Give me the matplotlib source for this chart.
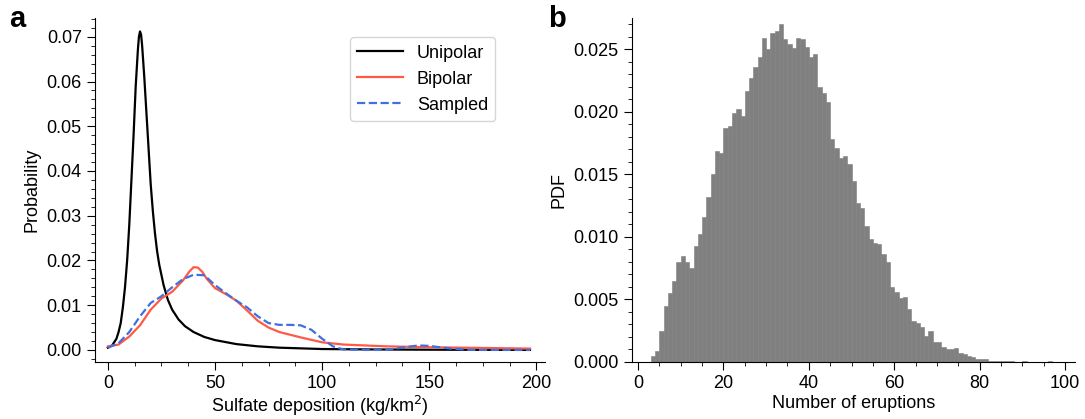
import numpy as np
import matplotlib.pyplot as plt
from matplotlib.ticker import AutoMinorLocator

# panel a curves
uni_x = [0, 2, 4, 5, 6, 7, 8, 9, 10, 11, 12, 13, 14, 14.5, 15, 15.5, 16, 17, 18, 19, 20, 21, 22, 23, 24, 26,
         28, 30, 33, 36, 40, 45, 50, 60, 70, 80, 100, 125, 150, 197]
uni_y = [0.0005, 0.001, 0.0025, 0.004, 0.006, 0.0095, 0.014, 0.020, 0.028, 0.038, 0.048, 0.059, 0.067, 0.0700,
         0.0712, 0.0705, 0.068, 0.061, 0.053, 0.045, 0.037, 0.031, 0.026, 0.022, 0.019, 0.0145, 0.0112, 0.009,
         0.0068, 0.0053, 0.0040, 0.0029, 0.0022, 0.0013, 0.0008, 0.0005, 0.0002, 0.0001, 0.00005, 0.0]
bip_x = [0, 5, 10, 15, 20, 25, 30, 35, 38, 40, 42, 44, 46, 50, 55, 60, 65, 70, 75, 80, 90, 100, 110, 130, 150, 197]
bip_y = [0.0008, 0.0012, 0.003, 0.0055, 0.009, 0.0115, 0.013, 0.0155, 0.0175, 0.0185, 0.0184, 0.0175, 0.016,
         0.0138, 0.0125, 0.011, 0.0088, 0.0065, 0.005, 0.004, 0.0028, 0.0017, 0.0012, 0.0008, 0.0006, 0.0003]
smp_x = [0, 5, 10, 15, 20, 25, 30, 35, 40, 45, 50, 55, 60, 65, 70, 75, 80, 85, 90, 95, 100, 105, 110, 120,
         130, 140, 145, 150, 160, 170, 197]
smp_y = [0.0005, 0.0015, 0.004, 0.0075, 0.0105, 0.012, 0.014, 0.0158, 0.0168, 0.0167, 0.0145, 0.0127, 0.011,
         0.0095, 0.0075, 0.006, 0.0056, 0.0056, 0.0055, 0.0045, 0.0025, 0.0008, 0.0001, 0.0, 0.0, 0.0007, 0.001,
         0.0009, 0.0003, 0.0, 0.0]

# panel b histogram, bins of width 1 starting at 3
bin_start = 3
pdf = [0.0005, 0.0009, 0.0025, 0.0045, 0.0055, 0.0065, 0.0080, 0.0085, 0.0080, 0.0075,
       0.0093, 0.0102, 0.0116, 0.0132, 0.0150, 0.0169, 0.0167, 0.0187, 0.0189, 0.0199,
       0.0202, 0.0197, 0.0217, 0.0227, 0.0236, 0.0244, 0.0259, 0.0250, 0.0263, 0.0265,
       0.0270, 0.0258, 0.0254, 0.0251, 0.0259, 0.0258, 0.0252, 0.0244, 0.0246, 0.0220,
       0.0215, 0.0208, 0.0178, 0.0171, 0.0163, 0.0165, 0.0158, 0.0145, 0.0127, 0.0123,
       0.0109, 0.0098, 0.0095, 0.0094, 0.0086, 0.0080, 0.0060, 0.0056, 0.0051, 0.0052,
       0.0042, 0.0033, 0.0031, 0.0028, 0.0021, 0.0025, 0.0016, 0.0016, 0.0012, 0.0010,
       0.0010, 0.0011, 0.0007, 0.0006, 0.0005, 0.0004, 0.0002, 0.0002, 0.0002, 0.0001,
       0.0001, 0.0001, 0.00005, 0.0001, 0.00005, 0.0, 0.0, 0.00005, 0.0, 0.0, 0.0, 0.0, 0.0, 0.00005]

plt.rcParams['font.family'] = ['Liberation Sans', 'DejaVu Sans']
plt.rcParams['font.size'] = 13

fig = plt.figure(figsize=(10.85, 4.19), dpi=100)
ax1 = fig.add_axes([95 / 1085, 1 - 362 / 419, 450 / 1085, 344 / 419])
ax2 = fig.add_axes([632 / 1085, 1 - 362 / 419, 443 / 1085, 344 / 419])

ax1.plot(uni_x, uni_y, color='black', lw=1.6, label='Unipolar')
ax1.plot(bip_x, bip_y, color='#ff5a45', lw=1.6, label='Bipolar')
ax1.plot(smp_x, smp_y, color='#3f6fe0', lw=1.6, ls='--', label='Sampled')
ax1.set_xlim(-6, 204)
ax1.set_ylim(-0.0027, 0.0742)
ax1.set_xticks([0, 50, 100, 150, 200])
ax1.set_xlabel('Sulfate deposition (kg/km$^2$)', labelpad=1)
ax1.set_ylabel('Probability')
ax1.legend(loc='upper right', bbox_to_anchor=(0.91, 0.97), fontsize=13, handlelength=2.5)

edges = bin_start + np.arange(len(pdf))
ax2.bar(edges, pdf, width=1.0, align='edge', color='#808080', edgecolor='#808080', linewidth=0.4)
ax2.set_xlim(-1.4, 102.3)
ax2.set_ylim(0, 0.0275)
ax2.set_xlabel('Number of eruptions', labelpad=2)
ax2.set_ylabel('PDF')

for ax in (ax1, ax2):
    ax.spines['top'].set_visible(False)
    ax.spines['right'].set_visible(False)
    ax.xaxis.set_minor_locator(AutoMinorLocator(4))
    ax.yaxis.set_minor_locator(AutoMinorLocator(5))
    ax.tick_params(which='major', length=6, direction='out')
    ax.tick_params(which='minor', length=3, direction='out')

fig.text(0.008, 0.935, 'a', fontsize=21, fontweight='bold')
fig.text(0.505, 0.935, 'b', fontsize=21, fontweight='bold')

fig.savefig('out.png', dpi=100)
